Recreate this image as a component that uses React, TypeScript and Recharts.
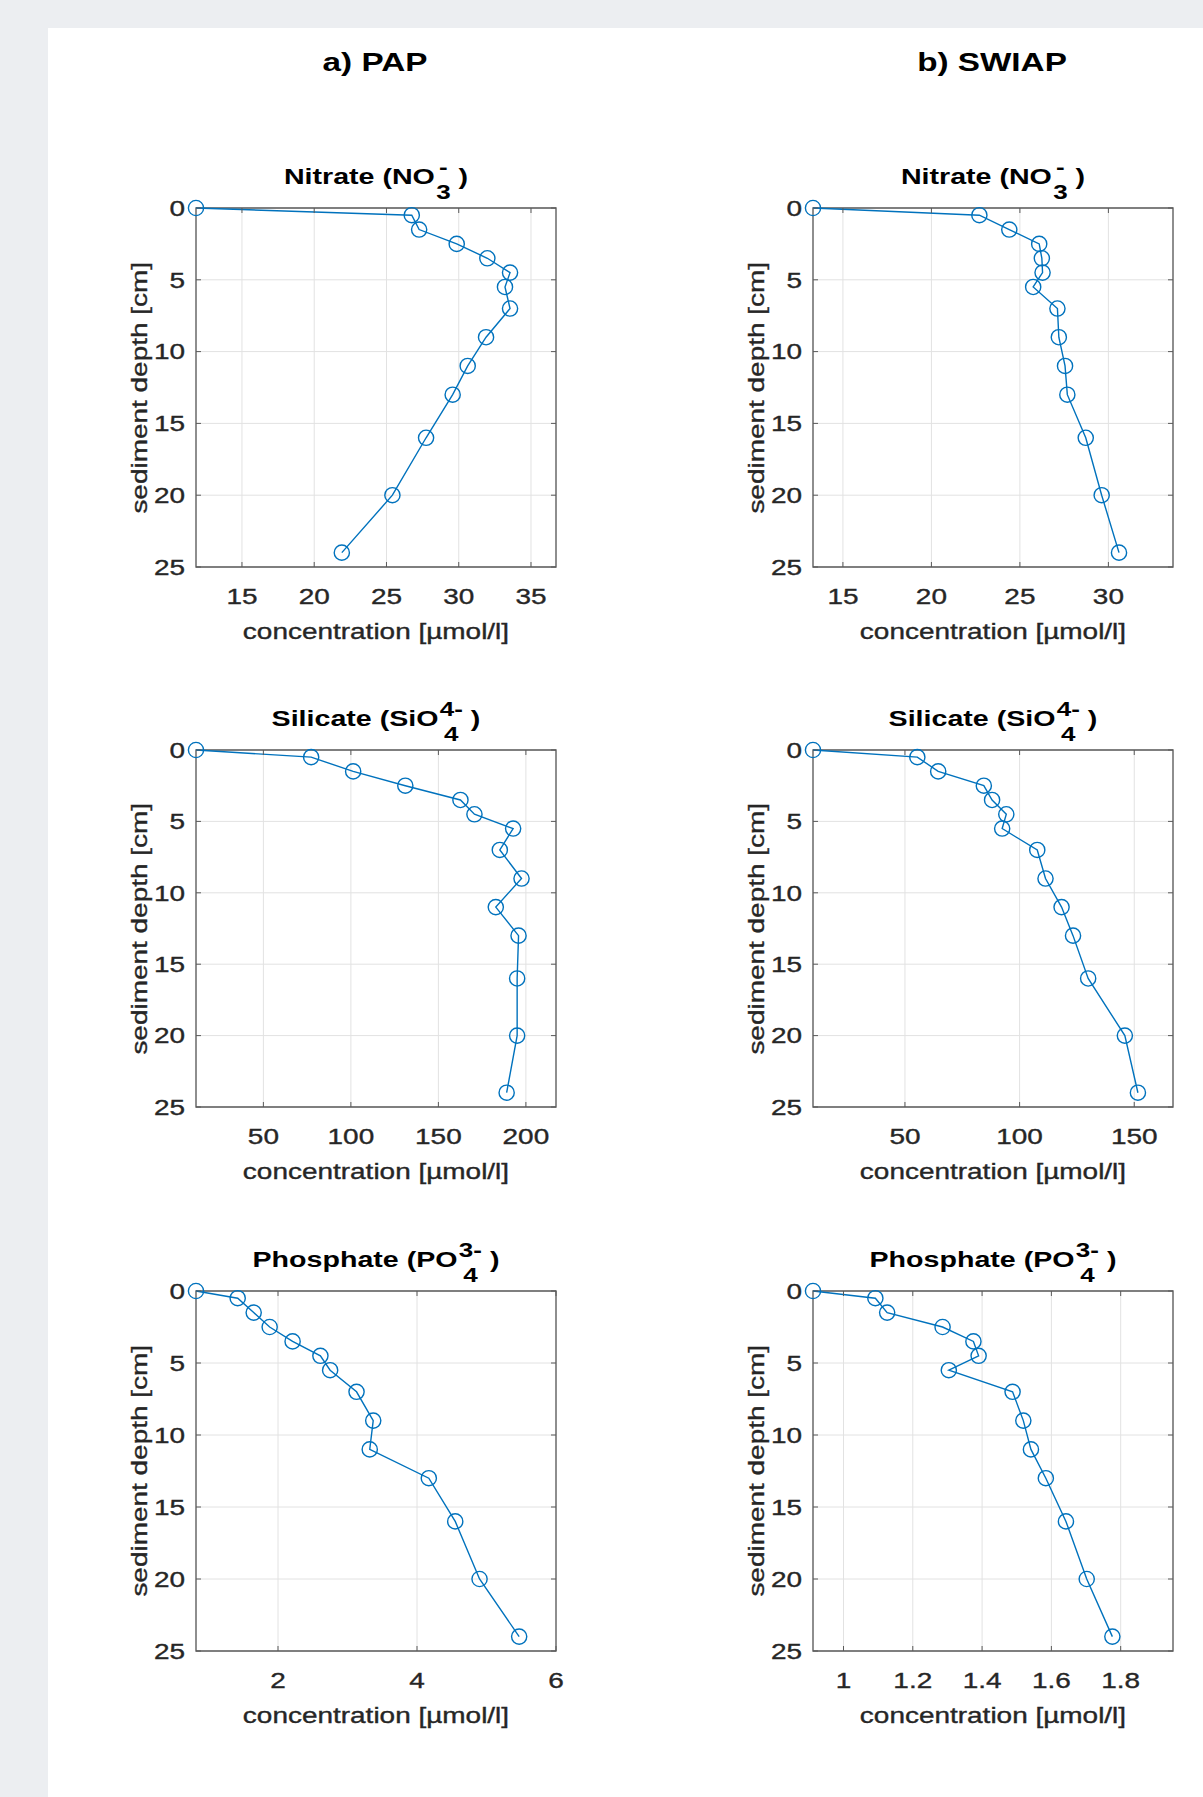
import React from 'react';
import { LineChart, Line, XAxis, YAxis, CartesianGrid, ReferenceArea } from 'recharts';

// ---------- data ----------
const DEPTH = [0, 0.5, 1.5, 2.5, 3.5, 4.5, 5.5, 7, 9, 11, 13, 16, 20, 24];
const DEPTH_TICKS = [0, 5, 10, 15, 20, 25];

const PAP_NITRATE = [11.82, 26.75, 27.26, 29.86, 31.98, 33.55, 33.2, 33.55, 31.89, 30.62, 29.58, 27.74, 25.41, 21.91];
const SWIAP_NITRATE = [13.31, 22.71, 24.4, 26.09, 26.24, 26.28, 25.75, 27.12, 27.2, 27.55, 27.68, 28.72, 29.62, 30.6];
const PAP_SILICATE = [11.5, 77.3, 101.3, 131.1, 162.6, 170.6, 192.7, 185.1, 197.5, 182.8, 195.8, 195, 195, 189];
const SWIAP_SILICATE = [9.9, 55.4, 64.5, 84.4, 88.0, 94.2, 92.4, 107.7, 111.3, 118.3, 123.3, 129.9, 145.9, 151.6];
const PAP_PHOSPHATE = [0.82, 1.42, 1.65, 1.88, 2.21, 2.61, 2.75, 3.13, 3.37, 3.32, 4.17, 4.55, 4.9, 5.47];
const SWIAP_PHOSPHATE = [0.912, 1.092, 1.126, 1.286, 1.375, 1.39, 1.304, 1.488, 1.519, 1.541, 1.584, 1.642, 1.702, 1.776];

const NITRATE_PAP_TICKS = [15, 20, 25, 30, 35];
const NITRATE_SWIAP_TICKS = [15, 20, 25, 30];
const SILICATE_PAP_TICKS = [50, 100, 150, 200];
const SILICATE_SWIAP_TICKS = [50, 100, 150];
const PHOSPHATE_PAP_TICKS = [2, 4, 6];
const PHOSPHATE_SWIAP_TICKS = [1, 1.2, 1.4, 1.6, 1.8];

const NITRATE_PAP_LIM = [11.82, 36.73];
const NITRATE_SWIAP_LIM = [13.31, 33.65];
const SILICATE_PAP_LIM = [11.5, 217.2];
const SILICATE_SWIAP_LIM = [9.9, 166.9];
const PHOSPHATE_PAP_LIM = [0.82, 6.0];
const PHOSPHATE_SWIAP_LIM = [0.912, 1.951];

const SITE_TITLES = ['a) PAP', 'b) SWIAP'];
const X_LABEL = 'concentration [µmol/l]';
const Y_LABEL = 'sediment depth [cm]';

// ---------- layout / style ----------
const BLUE = '#0072BD';
const TEXT = '#262626';
const AXIS = '#5a5a5a';
const GRID = '#e2e2e2';
const FONT = "'Liberation Sans', Arial, Helvetica, sans-serif";
const SX = 1.3;

const COL_LEFT = [196, 813];
const PLOT_W = 360;
const ROW_TOP = [208, 750, 1291];
const ROW_H = [359, 357, 360];
const ML = 120; // y-axis width
const MT = 20;
const MR = 20;
const XH = 100;

type Panel = {
  col: number;
  row: number;
  main: string;
  sub: string;
  sup: string;
  values: number[];
  ticks: number[];
  lim: number[];
};

const PANELS: Panel[] = [
  { col: 0, row: 0, main: 'Nitrate (NO', sub: '3', sup: '-', values: PAP_NITRATE, ticks: NITRATE_PAP_TICKS, lim: NITRATE_PAP_LIM },
  { col: 1, row: 0, main: 'Nitrate (NO', sub: '3', sup: '-', values: SWIAP_NITRATE, ticks: NITRATE_SWIAP_TICKS, lim: NITRATE_SWIAP_LIM },
  { col: 0, row: 1, main: 'Silicate (SiO', sub: '4', sup: '4-', values: PAP_SILICATE, ticks: SILICATE_PAP_TICKS, lim: SILICATE_PAP_LIM },
  { col: 1, row: 1, main: 'Silicate (SiO', sub: '4', sup: '4-', values: SWIAP_SILICATE, ticks: SILICATE_SWIAP_TICKS, lim: SILICATE_SWIAP_LIM },
  { col: 0, row: 2, main: 'Phosphate (PO', sub: '4', sup: '3-', values: PAP_PHOSPHATE, ticks: PHOSPHATE_PAP_TICKS, lim: PHOSPHATE_PAP_LIM },
  { col: 1, row: 2, main: 'Phosphate (PO', sub: '4', sup: '3-', values: SWIAP_PHOSPHATE, ticks: PHOSPHATE_SWIAP_TICKS, lim: PHOSPHATE_SWIAP_LIM },
];

const XTick = (props: any) => {
  const { x, y, payload, plotTop } = props;
  return (
    <g>
      <line x1={x} x2={x} y1={y} y2={y - 5} stroke={AXIS} strokeWidth={1} />
      <line x1={x} x2={x} y1={plotTop} y2={plotTop + 5} stroke={AXIS} strokeWidth={1} />
      <text
        transform={`translate(${x},${y + 36.8}) scale(${SX},1)`}
        textAnchor="middle"
        fontSize={21.5}
        fontFamily={FONT}
        fill={TEXT}
        stroke={TEXT}
        strokeWidth={0.35}
      >
        {String(payload.value)}
      </text>
    </g>
  );
};

const YTick = (props: any) => {
  const { x, y, payload, plotW } = props;
  return (
    <g>
      <line x1={x} x2={x + 5} y1={y} y2={y} stroke={AXIS} strokeWidth={1} />
      <line x1={x + plotW} x2={x + plotW - 5} y1={y} y2={y} stroke={AXIS} strokeWidth={1} />
      <text
        transform={`translate(${x - 11},${y + 7.7}) scale(${SX},1)`}
        textAnchor="end"
        fontSize={21.5}
        fontFamily={FONT}
        fill={TEXT}
        stroke={TEXT}
        strokeWidth={0.35}
      >
        {String(payload.value)}
      </text>
    </g>
  );
};

const Title = ({ p }: { p: Panel }) => {
  const cx = COL_LEFT[p.col] + PLOT_W / 2;
  const baseline = ROW_TOP[p.row] - 23;
  const F = 22;
  return (
    <div
      style={{
        position: 'absolute',
        left: cx - 300,
        width: 600,
        top: baseline - 0.8465 * F,
        fontSize: F,
        lineHeight: `${F}px`,
        fontWeight: 'bold',
        fontFamily: FONT,
        textAlign: 'center',
        transform: `scaleX(${SX})`,
        whiteSpace: 'nowrap',
        color: '#000',
      }}
    >
      {p.main}
      <span style={{ display: 'inline-grid', verticalAlign: 'baseline', fontSize: 20, lineHeight: '20px', marginLeft: 1 }}>
        <span style={{ gridArea: '1 / 1', transform: 'translateY(-10px)' }}>{p.sup}</span>
        <span style={{ gridArea: '1 / 1', transform: 'translateY(15px)' }}>{p.sub}</span>
      </span>
      {' )'}
    </div>
  );
};

const Labels = ({ p }: { p: Panel }) => {
  const left = COL_LEFT[p.col];
  const top = ROW_TOP[p.row];
  const h = ROW_H[p.row];
  const F = 21.5;
  const cx = left + PLOT_W / 2;
  const xBase = top + h + 73;
  const ycx = left - 48 - 0.3465 * F;
  const ycy = top + h / 2;
  const common: React.CSSProperties = {
    position: 'absolute',
    width: 600,
    fontSize: F,
    lineHeight: `${F}px`,
    fontFamily: FONT,
    color: TEXT,
    textAlign: 'center',
    whiteSpace: 'nowrap',
    WebkitTextStroke: '0.35px #262626',
  };
  return (
    <>
      <div style={{ ...common, left: cx - 300, top: xBase - 0.8465 * F, transform: `scaleX(${SX})` }}>{X_LABEL}</div>
      <div
        style={{
          ...common,
          left: ycx - 300,
          top: ycy - F / 2,
          height: F,
          transform: `rotate(-90deg) scaleX(${SX})`,
          transformOrigin: 'center center',
        }}
      >
        {Y_LABEL}
      </div>
    </>
  );
};

const PanelChart = ({ p }: { p: Panel }) => {
  const h = ROW_H[p.row];
  const data = DEPTH.map((d, i) => ({ d, c: p.values[i] }));
  const W = ML + PLOT_W + MR;
  const H = MT + h + XH;
  return (
    <div style={{ position: 'absolute', left: COL_LEFT[p.col] - ML, top: ROW_TOP[p.row] - MT, width: W, height: H }}>
      <LineChart width={W} height={H} data={data} margin={{ top: MT, right: MR, bottom: 0, left: 0 }}>
        <CartesianGrid stroke={GRID} strokeWidth={1} />
        <XAxis
          type="number"
          dataKey="c"
          domain={p.lim}
          ticks={p.ticks}
          interval={0}
          height={XH}
          tickSize={0}
          tickMargin={0}
          tickLine={false}
          axisLine={false}
          tick={<XTick plotTop={MT} />}
        />
        <YAxis
          type="number"
          domain={[0, 25]}
          ticks={DEPTH_TICKS}
          reversed
          interval={0}
          width={ML}
          tickSize={0}
          tickMargin={0}
          tickLine={false}
          axisLine={false}
          tick={<YTick plotW={PLOT_W} />}
        />
        <ReferenceArea
          x1={p.lim[0]}
          x2={p.lim[1]}
          y1={0}
          y2={25}
          fill="none"
          fillOpacity={0}
          stroke={AXIS}
          strokeWidth={1.3}
          strokeOpacity={1}
        />
        <Line
          type="linear"
          dataKey="d"
          stroke={BLUE}
          strokeWidth={1.4}
          dot={{ r: 7.6, stroke: BLUE, strokeWidth: 1.4, fill: 'none' }}
          activeDot={false}
          isAnimationActive={false}
        />
      </LineChart>
    </div>
  );
};

export default function App() {
  return (
    <div style={{ position: 'absolute', left: 0, top: 0, width: 1203, height: 1797, background: '#eceef1', overflow: 'hidden' }}>
      <div style={{ position: 'absolute', left: 48, top: 28, width: 1155, height: 1769, background: '#ffffff' }} />
      {SITE_TITLES.map((t, i) => {
        const F = 25.6;
        const cx = COL_LEFT[i] + PLOT_W / 2 - 1.5;
        return (
          <div
            key={t}
            style={{
              position: 'absolute',
              left: cx - 300,
              width: 600,
              top: 71.7 - 0.8465 * F,
              fontSize: F,
              lineHeight: `${F}px`,
              fontWeight: 'bold',
              fontFamily: FONT,
              textAlign: 'center',
              transform: `scaleX(${SX})`,
              color: '#000',
              whiteSpace: 'nowrap',
            }}
          >
            {t}
          </div>
        );
      })}
      {PANELS.map((p, i) => (
        <React.Fragment key={i}>
          <Title p={p} />
          <Labels p={p} />
          <PanelChart p={p} />
        </React.Fragment>
      ))}
    </div>
  );
}
